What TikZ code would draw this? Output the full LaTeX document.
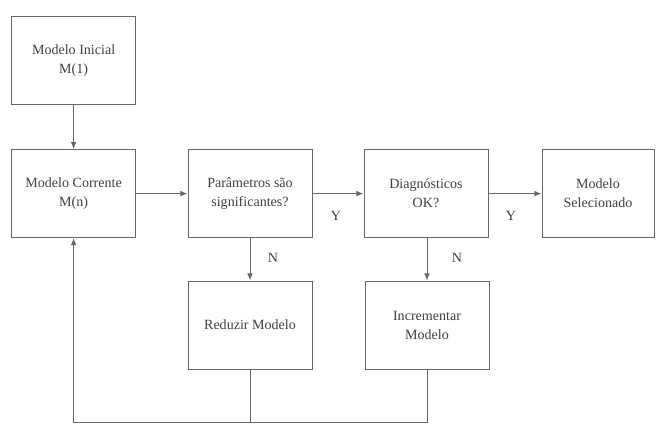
\documentclass[tikz,border=0pt]{standalone}
\usepackage{fontspec}
\setmainfont{Liberation Serif}
\usetikzlibrary{arrows.meta}

\tikzset{
  caixa/.style={draw=black!60, line width=0.7pt, text=black!75, minimum width=3.1cm, minimum height=2.2cm, align=center, font=\fontsize{10}{13.5}\selectfont},
  seta/.style={draw=black!60, line width=0.7pt, -{Latex[length=5pt,width=4pt]}},
  linha/.style={draw=black!60, line width=0.7pt},
  rotulo/.style={text=black!75, font=\fontsize{10}{12}\selectfont}
}

\begin{document}
\begin{tikzpicture}
\useasboundingbox (0,0) rectangle (16.425,10.6);

\node[caixa] (inicial) at (1.84,9.09) {Modelo Inicial\\M(1)};
\node[caixa] (corrente) at (1.84,5.76) {Modelo Corrente\\M(n)};
\node[caixa] (param) at (6.25,5.76) {Parâmetros são\\significantes?};
\node[caixa] (diag) at (10.65,5.76) {Diagnósticos\\OK?};
\node[caixa, minimum width=2.8cm] (selec) at (14.95,5.76) {Modelo\\Selecionado};
\node[caixa] (reduzir) at (6.25,2.475) {Reduzir Modelo};
\node[caixa] (incr) at (10.675,2.475) {Incrementar\\Modelo};

\coordinate (base) at (1.85,0.05);

\draw[seta] (inicial) -- (corrente);
\draw[seta] (corrente) -- (param);
\draw[seta] (param) -- (diag);
\draw[seta] (diag) -- (selec);
\draw[seta] (param) -- (reduzir);
\draw[seta] (diag.south -| incr.north) -- (incr);

\draw[linha] (reduzir.south) -- (reduzir.south |- base);
\draw[seta] (incr.south) -- (incr.south |- base) -| (corrente.south);

\node[rotulo] (y1) at (8.4,5.2) {Y};
\node[rotulo] (y2) at (12.775,5.2) {Y};
\node[rotulo] (n1) at (6.825,4.15) {N};
\node[rotulo] (n2) at (11.425,4.15) {N};
\end{tikzpicture}
\end{document}
